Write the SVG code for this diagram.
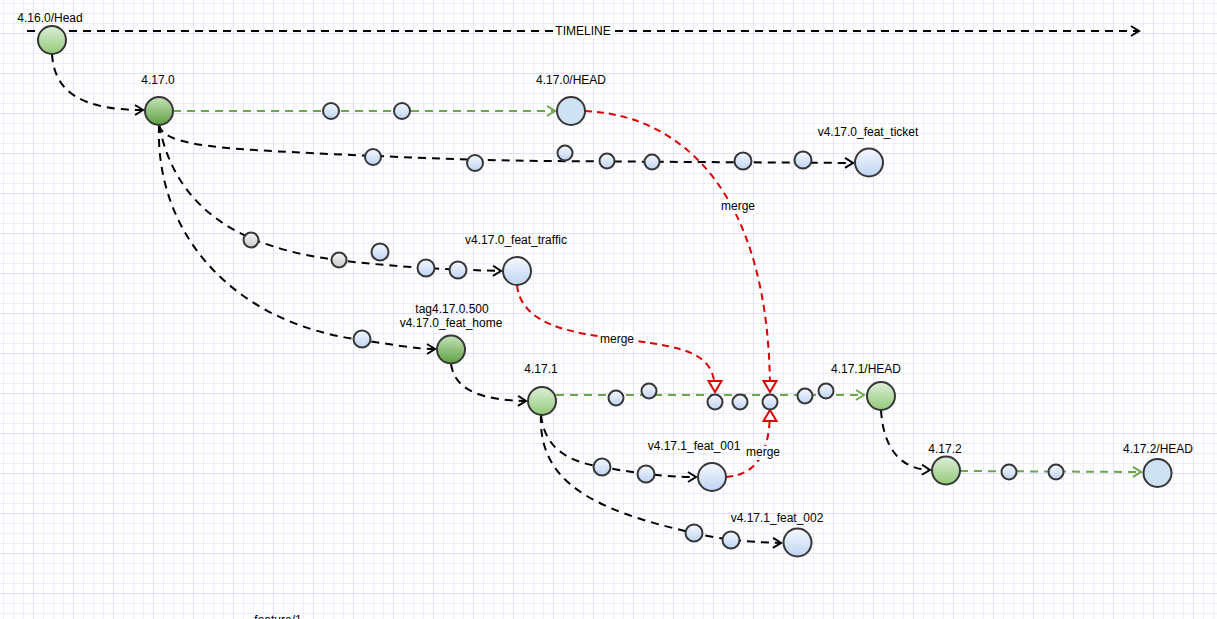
<svg xmlns="http://www.w3.org/2000/svg" width="1217" height="619" viewBox="0 0 1217 619">
  <defs>
    <!-- background grid: 10px minor lines, 40px major lines -->
    <pattern id="grid" x="3" y="3" width="40" height="40" patternUnits="userSpaceOnUse">
      <path d="M0.5,0 V40 M10.5,0 V40 M20.5,0 V40 M0,0.5 H40 M0,10.5 H40 M0,20.5 H40" stroke="#ececfd" stroke-width="1" fill="none"/>
      <path d="M30.5,0 V40 M0,30.5 H40" stroke="#e0e0fb" stroke-width="1" fill="none"/>
    </pattern>
    <linearGradient id="gLight" x1="0" y1="0" x2="0" y2="1">
      <stop offset="0" stop-color="#dcefd8"/>
      <stop offset="1" stop-color="#93c978"/>
    </linearGradient>
    <linearGradient id="gDark" x1="0" y1="0" x2="0" y2="1">
      <stop offset="0" stop-color="#c4e3b8"/>
      <stop offset="1" stop-color="#5f9f43"/>
    </linearGradient>
    <linearGradient id="gBlue" x1="0" y1="0" x2="0" y2="1">
      <stop offset="0" stop-color="#f6f9fe"/>
      <stop offset="1" stop-color="#bed3f3"/>
    </linearGradient>
    <linearGradient id="gGray" x1="0" y1="0" x2="0" y2="1">
      <stop offset="0" stop-color="#f7f7f7"/>
      <stop offset="1" stop-color="#cacaca"/>
    </linearGradient>
    <marker id="arrBlack" viewBox="-10 -6 12 12" refX="0" refY="0" markerWidth="12" markerHeight="12" markerUnits="userSpaceOnUse" orient="auto">
      <path d="M-8,-5 L0,0 L-8,5" fill="none" stroke="#000" stroke-width="2"/>
    </marker>
    <marker id="arrGreen" viewBox="-10 -6 12 12" refX="0" refY="0" markerWidth="12" markerHeight="12" markerUnits="userSpaceOnUse" orient="auto">
      <path d="M-8,-5 L0,0 L-8,5" fill="none" stroke="#6aa84a" stroke-width="2"/>
    </marker>
    <marker id="arrMerge" viewBox="-13 -9 15 18" refX="0" refY="0" markerWidth="15" markerHeight="18" markerUnits="userSpaceOnUse" orient="auto">
      <path d="M-11,-6.5 L0,0 L-11,6.5 Z" fill="#fff" stroke="#dd0000" stroke-width="2"/>
    </marker>
  </defs>
  <style>
    text { font-family: "Liberation Sans", Arial, sans-serif; font-size: 12px; fill: #000; text-anchor: middle; }
    .node { stroke: #363636; stroke-width: 2; }
    .lg { fill: url(#gLight); }
    .dg { fill: url(#gDark); }
    .bl { fill: url(#gBlue); }
    .gr { fill: url(#gGray); }
    .flat { fill: #cfe2f3; }
    .e { fill: none; stroke-width: 2; }
    .blk { stroke: #000; stroke-dasharray: 8 6; }
    .grn { stroke: #6aa84a; stroke-dasharray: 8 6; }
    .red { stroke: #dd0000; stroke-dasharray: 7 5; }
    .lblbg { fill: #fff; }
  </style>

  <rect width="1217" height="619" fill="#fff"/>
  <rect width="1217" height="619" fill="url(#grid)"/>

  <g id="connectors">
    <!-- timeline -->
    <path class="e blk" d="M27,31 H1139" marker-end="url(#arrBlack)"/>
    <rect class="lblbg" x="553" y="24" width="60" height="14"/>
    <text x="583" y="35">TIMELINE</text>

    <!-- 4.16.0 to 4.17.0 -->
    <path class="e blk" d="M52,54 C54,92 82,110 143,110" marker-end="url(#arrBlack)"/>

    <!-- 4.17.0 branches -->
    <path class="e grn" d="M173,111 H555" marker-end="url(#arrGreen)"/>
    <path class="e blk" d="M159,125 C163,147 230,149 330,154 C420,158 470,160 540,161 L853,163" marker-end="url(#arrBlack)"/>
    <path class="e blk" d="M159,125 C170,180 200,215 250,238 C290,254 320,258 345,261 C390,266 430,269 501,271" marker-end="url(#arrBlack)"/>
    <path class="e blk" d="M159,125 C155,240 240,325 362,340 C395,345 415,349 435,349" marker-end="url(#arrBlack)"/>

    <!-- feat_home to 4.17.1 -->
    <path class="e blk" d="M451,364 C455,392 485,400 526,401" marker-end="url(#arrBlack)"/>

    <!-- 4.17.1 line and branches -->
    <path class="e grn" d="M556,395 H864" marker-end="url(#arrGreen)"/>
    <path class="e blk" d="M541,415 C545,450 570,462 602,467 C630,472 660,477 696,477" marker-end="url(#arrBlack)"/>
    <path class="e blk" d="M541,415 C538,480 590,510 694,533 C715,538 740,542 781,543" marker-end="url(#arrBlack)"/>

    <!-- 4.17.1/HEAD to 4.17.2 -->
    <path class="e blk" d="M881,410 C883,445 898,469 930,470" marker-end="url(#arrBlack)"/>
    <path class="e grn" d="M960,471 L1141,472" marker-end="url(#arrGreen)"/>

    <!-- merges -->
    <path class="e red" d="M585,111 C680,115 770,190 770,392" marker-end="url(#arrMerge)"/>
    <path class="e red" d="M517,285 C522,335 600,335 650,343 C700,350 715,362 715,392" marker-end="url(#arrMerge)"/>
    <path class="e red" d="M726,477 C755,475 770,455 770,410" marker-end="url(#arrMerge)"/>
    <rect class="lblbg" x="721" y="200" width="34" height="14"/>
    <text x="738" y="210">merge</text>
    <rect class="lblbg" x="600" y="333" width="34" height="14"/>
    <text x="617" y="343">merge</text>
    <rect class="lblbg" x="746" y="446" width="34" height="14"/>
    <text x="763" y="456">merge</text>
  </g>

  <!-- commits on the 4.17.0 line -->
  <g id="c-4170-a"><circle class="node bl" cx="331" cy="111" r="8"/></g>
  <g id="c-4170-b"><circle class="node bl" cx="402" cy="111" r="8"/></g>

  <!-- commits on feat_ticket -->
  <g id="c-ticket-1"><circle class="node bl" cx="373" cy="157" r="8"/></g>
  <g id="c-ticket-2"><circle class="node bl" cx="475" cy="163" r="8"/></g>
  <g id="c-ticket-3"><circle class="node bl" cx="565" cy="153" r="7.5"/></g>
  <g id="c-ticket-4"><circle class="node bl" cx="607" cy="161" r="7.5"/></g>
  <g id="c-ticket-5"><circle class="node bl" cx="652" cy="162" r="7.5"/></g>
  <g id="c-ticket-6"><circle class="node bl" cx="743" cy="161" r="8.5"/></g>
  <g id="c-ticket-7"><circle class="node bl" cx="803" cy="160" r="8.5"/></g>

  <!-- commits on feat_traffic -->
  <g id="c-traffic-1"><circle class="node gr" cx="251" cy="240" r="7.5"/></g>
  <g id="c-traffic-2"><circle class="node gr" cx="339" cy="260" r="7.5"/></g>
  <g id="c-traffic-3"><circle class="node bl" cx="380" cy="252" r="8.5"/></g>
  <g id="c-traffic-4"><circle class="node bl" cx="426" cy="268" r="8.5"/></g>
  <g id="c-traffic-5"><circle class="node bl" cx="458" cy="270" r="8.5"/></g>

  <!-- commit on feat_home -->
  <g id="c-home-1"><circle class="node bl" cx="362" cy="339" r="8.5"/></g>

  <!-- commits on the 4.17.1 line -->
  <g id="c-4171-a"><circle class="node bl" cx="616" cy="398" r="7.5"/></g>
  <g id="c-4171-b"><circle class="node bl" cx="649" cy="391" r="7.5"/></g>
  <g id="c-4171-c"><circle class="node bl" cx="715" cy="402" r="7.5"/></g>
  <g id="c-4171-d"><circle class="node bl" cx="740" cy="402" r="7.5"/></g>
  <g id="c-4171-e"><circle class="node bl" cx="770" cy="402" r="7.5"/></g>
  <g id="c-4171-f"><circle class="node bl" cx="805" cy="396" r="7.5"/></g>
  <g id="c-4171-g"><circle class="node bl" cx="826" cy="391" r="7.5"/></g>

  <!-- commits on feat_001 / feat_002 -->
  <g id="c-f001-1"><circle class="node bl" cx="602" cy="467" r="8.5"/></g>
  <g id="c-f001-2"><circle class="node bl" cx="646" cy="474" r="8.5"/></g>
  <g id="c-f002-1"><circle class="node bl" cx="694" cy="533" r="8.5"/></g>
  <g id="c-f002-2"><circle class="node bl" cx="731" cy="540" r="8.5"/></g>

  <!-- commits on the 4.17.2 line -->
  <g id="c-4172-a"><circle class="node bl" cx="1009" cy="472" r="7.5"/></g>
  <g id="c-4172-b"><circle class="node bl" cx="1056" cy="472" r="7.5"/></g>

  <!-- labelled refs -->
  <g id="n-4160-head">
    <circle class="node lg" cx="52" cy="40" r="14"/>
    <text x="50" y="22">4.16.0/Head</text>
  </g>
  <g id="n-4170">
    <circle class="node dg" cx="159" cy="111" r="14"/>
    <text x="158" y="84">4.17.0</text>
  </g>
  <g id="n-4170-head">
    <circle class="node flat" cx="571" cy="111" r="14"/>
    <text x="571" y="84">4.17.0/HEAD</text>
  </g>
  <g id="n-feat-ticket">
    <circle class="node bl" cx="869" cy="162.5" r="14"/>
    <text x="868" y="136">v4.17.0_feat_ticket</text>
  </g>
  <g id="n-feat-traffic">
    <circle class="node bl" cx="517" cy="271" r="14"/>
    <text x="516" y="244">v4.17.0_feat_traffic</text>
  </g>
  <g id="n-feat-home">
    <circle class="node dg" cx="451" cy="349.5" r="14"/>
    <text x="452" y="313">tag4.17.0.500</text>
    <text x="451" y="327">v4.17.0_feat_home</text>
  </g>
  <g id="n-4171">
    <circle class="node lg" cx="542" cy="401" r="14"/>
    <text x="541" y="373">4.17.1</text>
  </g>
  <g id="n-4171-head">
    <circle class="node lg" cx="881" cy="396" r="14"/>
    <text x="866" y="373">4.17.1/HEAD</text>
  </g>
  <g id="n-feat-001">
    <circle class="node bl" cx="712" cy="477" r="14"/>
    <text x="694" y="450">v4.17.1_feat_001</text>
  </g>
  <g id="n-feat-002">
    <circle class="node bl" cx="797.5" cy="542.5" r="14"/>
    <text x="777" y="522">v4.17.1_feat_002</text>
  </g>
  <g id="n-4172">
    <circle class="node lg" cx="946" cy="470.5" r="14"/>
    <text x="945" y="453">4.17.2</text>
  </g>
  <g id="n-4172-head">
    <circle class="node flat" cx="1157.5" cy="473" r="14"/>
    <text x="1158" y="453">4.17.2/HEAD</text>
  </g>
  <g id="n-feature-1">
    <text x="278" y="624">feature/1</text>
  </g>
</svg>
